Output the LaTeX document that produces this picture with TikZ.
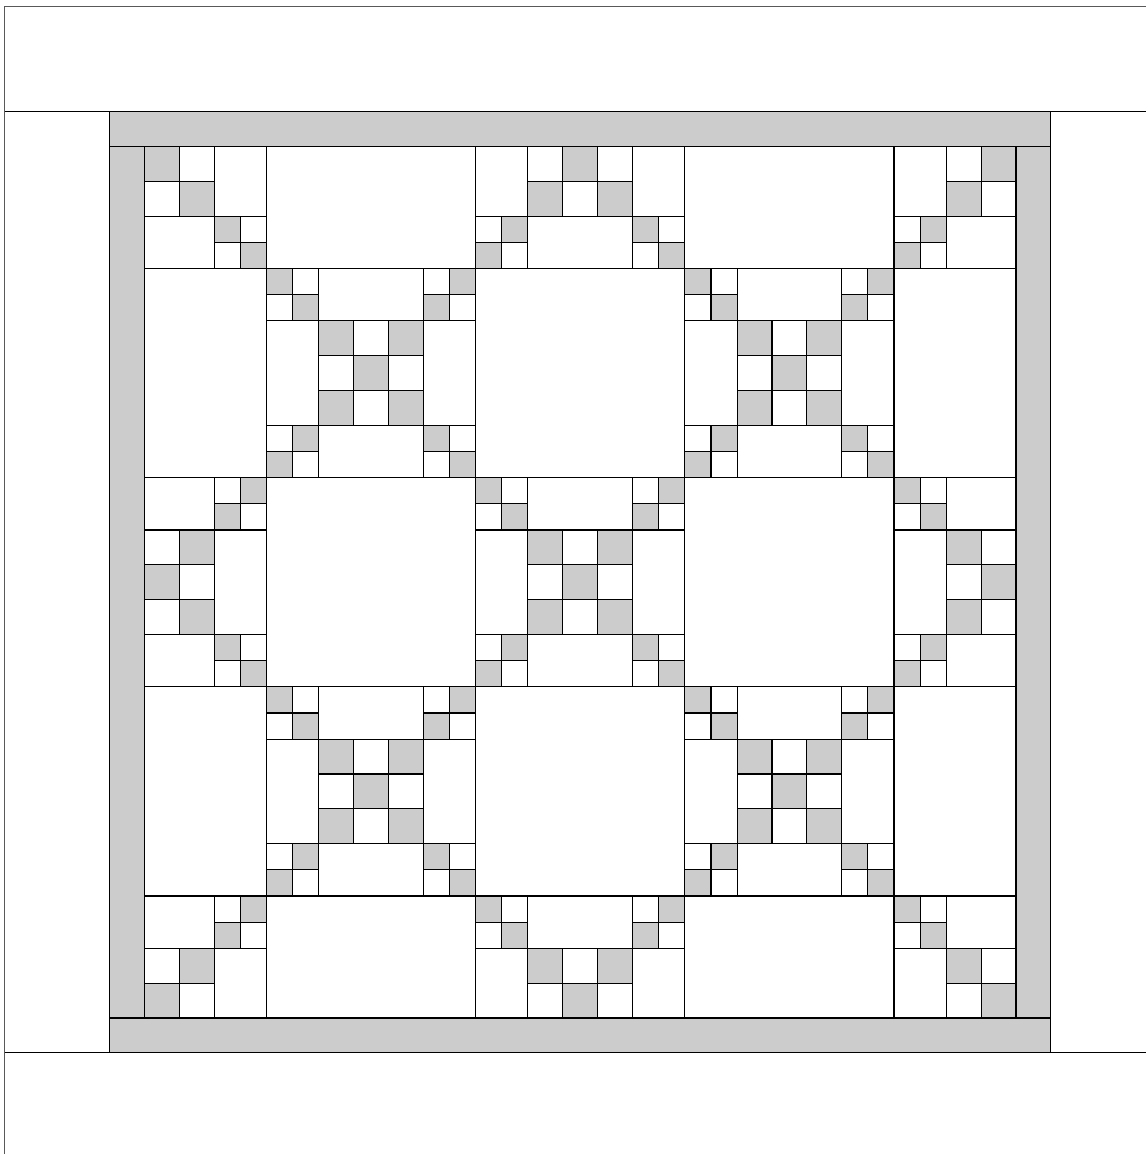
\documentclass[tikz,border=0pt]{standalone}
\definecolor{qgray}{HTML}{CCCCCC}
\tikzset{
  seam/.style={draw=black, line width=0.8pt},
  patch/.style={seam, fill=qgray},
  frameline/.style={draw=black!65, line width=0.9pt},
  pieced/.pic={
    \foreach \a/\b in {0/0,1.5/1.5,10.5/0,9/1.5,1.5/9,0/10.5,9/9,10.5/10.5}
      \draw[patch] (\a,\b) rectangle ++(1.5,1.5);
    \foreach \a/\b in {1.5/0,0/1.5,9/0,10.5/1.5,0/9,1.5/10.5,10.5/9,9/10.5}
      \draw[seam] (\a,\b) rectangle ++(1.5,1.5);
    \foreach \a/\b in {3/3,7/3,5/5,3/7,7/7}
      \draw[patch] (\a,\b) rectangle ++(2,2);
    \foreach \a/\b in {5/3,3/5,7/5,5/7}
      \draw[seam] (\a,\b) rectangle ++(2,2);
    \draw[seam] (3,0) rectangle (9,3) (3,9) rectangle (9,12)
                (0,3) rectangle (3,9) (9,3) rectangle (12,9);
  }
}
\begin{document}
\begin{tikzpicture}[x=0.75pt,y=-0.75pt]
\useasboundingbox (0,0) rectangle (1146,1154);
% page frame
\draw[frameline] (4.5,1154) -- (4.5,6.5) -- (1146,6.5);
\coordinate (fl) at (4.5,0);
\coordinate (fr) at (1146,0);
\begin{scope}[shift={(108.375pt,-109.875pt)}, x=13.0725pt, y=-13.0725pt]
  \coordinate (qtop) at (-2,-2);
  \coordinate (qbot) at (-2,52);
  \begin{scope}
    \clip (0,0) rectangle (50,50);
    \foreach \i in {0,...,4} {
      \foreach \j in {0,...,4} {
        \pgfmathtruncatemacro\pp{mod(\i+\j,2)}
        \ifnum\pp=0
          \pic at ({-5+12*\j},{-5+12*\i}) {pieced};
        \fi
      }
    }
    \foreach \k in {7,19,31,43} {
      \draw[seam] (\k,0) -- (\k,50);
      \draw[seam] (0,\k) -- (50,\k);
    }
  \end{scope}
  % borders
  \draw[patch] (-2,-2) rectangle (52,0);
  \draw[patch] (-2,50) rectangle (52,52);
  \draw[patch] (-2,0) rectangle (0,50);
  \draw[patch] (50,0) rectangle (52,50);
\end{scope}
\draw[seam] (fl |- qtop) -- (fr |- qtop);
\draw[seam] (fl |- qbot) -- (fr |- qbot);
\end{tikzpicture}
\end{document}
